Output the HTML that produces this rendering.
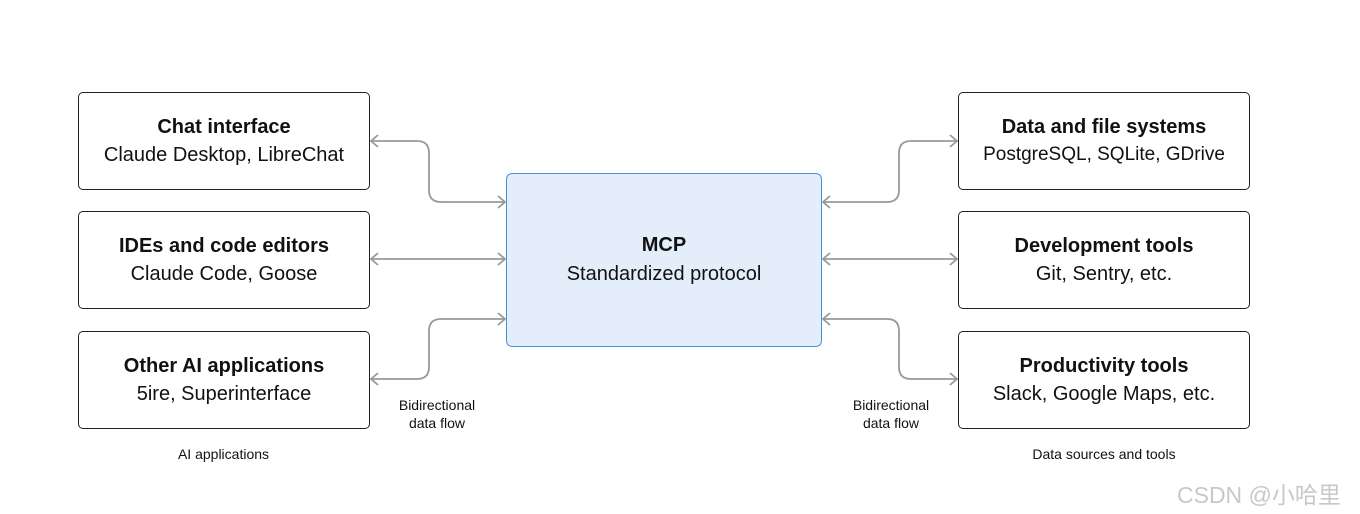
<!DOCTYPE html>
<html><head><meta charset="utf-8"><style>
body{margin:0;width:1360px;height:514px;background:#fff;position:relative;overflow:hidden;font-family:"Liberation Sans",sans-serif;color:#111}
.b{position:absolute;width:292px;height:98px;border:1.5px solid #222;border-radius:5px;background:#fff;box-sizing:border-box;text-align:center}
.b h{display:block;font-weight:bold;font-size:20px;margin-top:23px}
.b p{margin:5px 0 0;font-size:20px}
.m{position:absolute;left:506px;top:173px;width:316px;height:174px;border:1.5px solid #4a90d6;background:#e3eefa;border-radius:6px;box-sizing:border-box;text-align:center}
.m h{display:block;font-weight:bold;font-size:20px;margin-top:60px}
.m p{margin:6px 0 0;font-size:20px}
.s{position:absolute;font-size:14px;text-align:center;line-height:18px}
svg{position:absolute;left:0;top:0}
</style></head><body>
<svg width="1360" height="514">
<g fill="none" stroke="#999" stroke-width="1.8">
<path d="M371 141H417Q429 141 429 153V190Q429 202 441 202H504"/>
<path d="M371 259H504"/>
<path d="M371 379H417Q429 379 429 367V331Q429 319 441 319H504"/>
<path d="M957 141H911Q899 141 899 153V190Q899 202 887 202H823"/>
<path d="M957 259H823"/>
<path d="M957 379H911Q899 379 899 367V331Q899 319 887 319H823"/>
<path d="M378 135L371 141L378 147M498 196L505 202L498 208M378 253L371 259L378 265M498 253L505 259L498 265M378 373L371 379L378 385M498 313L505 319L498 325"/>
<path d="M950 135L957 141L950 147M830 196L823 202L830 208M950 253L957 259L950 265M830 253L823 259L830 265M950 373L957 379L950 385M830 313L823 319L830 325"/>
</g></svg>
<div class="b" style="left:78px;top:92px"><h>Chat interface</h><p>Claude Desktop, LibreChat</p></div>
<div class="b" style="left:78px;top:211px"><h>IDEs and code editors</h><p>Claude Code, Goose</p></div>
<div class="b" style="left:78px;top:331px"><h>Other AI applications</h><p>5ire, Superinterface</p></div>
<div class="b" style="left:958px;top:92px"><h>Data and file systems</h><p style="font-size:19px">PostgreSQL, SQLite, GDrive</p></div>
<div class="b" style="left:958px;top:211px"><h>Development tools</h><p>Git, Sentry, etc.</p></div>
<div class="b" style="left:958px;top:331px"><h>Productivity tools</h><p>Slack, Google Maps, etc.</p></div>
<div class="m"><h>MCP</h><p>Standardized protocol</p></div>
<div class="s" style="left:377px;top:396px;width:120px">Bidirectional<br>data flow</div>
<div class="s" style="left:831px;top:396px;width:120px">Bidirectional<br>data flow</div>
<div class="s" style="left:78px;top:445px;width:291px">AI applications</div>
<div class="s" style="left:958px;top:445px;width:292px">Data sources and tools</div>
<div style="position:absolute;left:1177px;top:476px;font-size:23px;color:#c8c8c8;font-family:'Liberation Sans','Noto Sans CJK SC',sans-serif">CSDN @小哈里</div>
</body></html>
